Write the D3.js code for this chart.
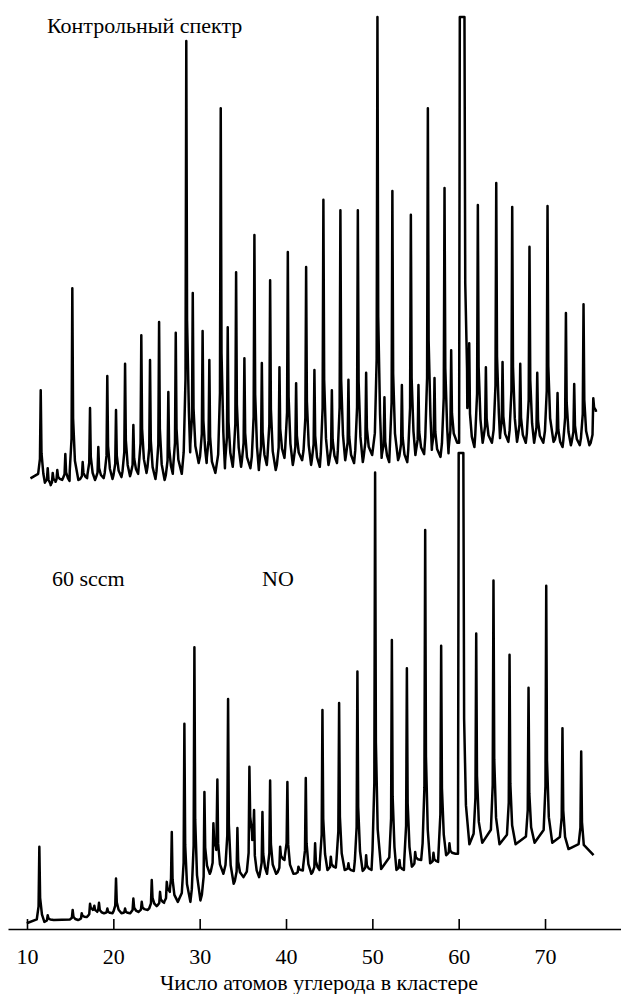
<!DOCTYPE html>
<html>
<head>
<meta charset="utf-8">
<script src="https://cdn.jsdelivr.net/npm/d3@7"></script>
<style>
  body { margin: 0; background: #fff; }
  svg { display: block; }
  text { font-family: "Liberation Serif", "DejaVu Serif", serif; }
</style>
</head>
<body>
<svg id="chart" width="621" height="994"></svg>
<script>
// cluster size (number of C atoms) of each peak, and its relative intensity (0-100, 100 = top of panel)
const topPeakN = [11.59, 12.40, 12.98, 13.51, 14.44, 15.25, 16.45, 17.30, 18.26, 19.30, 20.31, 21.36, 22.32, 23.24, 24.25, 25.30, 26.37, 27.23, 28.45, 29.20, 30.34, 31.12, 32.44, 33.25, 34.22, 35.18, 36.34, 37.20, 38.16, 39.24, 40.21, 41.17, 42.33, 43.29, 44.33, 45.31, 46.30, 47.23, 48.32, 49.28, 50.59, 51.40, 52.32, 53.42, 54.46, 55.34, 56.43, 57.20, 58.36, 59.13, 60.40, 61.22, 62.22, 63.15, 64.35, 65.08, 66.20, 67.13, 68.20, 69.10, 70.29, 71.45, 72.42, 73.38, 74.46, 75.59];
const topPeakI = [20.6, 4.0, 3.0, 3.6, 7.0, 42.3, 5.3, 16.8, 8.5, 23.6, 16.4, 26.2, 13.2, 32.3, 27.0, 35.1, 20.2, 32.8, 94.9, 41.3, 33.2, 27.0, 80.6, 34.0, 45.7, 27.4, 53.6, 26.4, 44.0, 25.5, 50.0, 22.1, 46.8, 24.9, 61.1, 20.6, 58.9, 22.8, 58.9, 24.3, 100, 19.1, 63.0, 21.7, 57.9, 21.7, 80.6, 23.2, 63.6, 29.1, 200, 30.6, 60.0, 25.5, 64.7, 26.6, 59.6, 26.2, 51.1, 24.3, 59.8, 20.0, 37.0, 21.9, 38.9, 18.9];
// background level right after each peak
const topValleyI = [0.9, 0.4, 1.1, 1.5, 1.3, 1.5, 1.9, 1.5, 1.9, 1.7, 2.1, 2.3, 2.8, 3.0, 1.7, 1.5, 2.8, 2.8, 7.4, 5.1, 5.1, 3.0, 4.0, 4.3, 4.3, 4.0, 3.6, 4.7, 3.6, 6.2, 4.7, 5.7, 4.7, 4.3, 4.7, 5.1, 5.7, 5.1, 5.3, 6.8, 6.2, 5.3, 5.7, 5.3, 6.8, 7.0, 7.9, 6.4, 7.2, 9.4, 16.8, 8.5, 9.4, 9.4, 10.4, 9.6, 9.6, 9.4, 9.4, 9.4, 9.6, 8.5, 8.9, 8.9, 8.9, 16.0];
const topStart = [10.4, 1.85];
const topEnd = [75.9, 16.0];

const botPeakN = [11.43, 12.40, 15.29, 16.34, 17.30, 17.80, 18.34, 19.31, 20.31, 21.36, 22.32, 23.29, 24.45, 25.41, 26.19, 26.77, 28.23, 29.39, 30.55, 31.59, 32.05, 33.29, 34.37, 35.76, 36.30, 37.27, 38.16, 39.32, 40.16, 41.44, 42.29, 43.37, 44.22, 45.19, 46.15, 47.23, 48.27, 49.28, 50.32, 52.26, 53.14, 54.00, 54.96, 56.12, 57.08, 57.97, 58.93, 60.27, 62.03, 64.03, 65.89, 68.09, 70.14, 72.02, 74.19];
const botPeakI = [17.3, 2.9, 4.0, 3.3, 5.3, 4.9, 5.5, 4.3, 10.6, 4.3, 6.4, 5.7, 10.3, 7.8, 9.9, 20.4, 43.1, 59.2, 28.8, 22.2, 31.4, 48.3, 21.2, 34.1, 25.0, 24.6, 31.2, 17.3, 30.9, 13.1, 31.7, 18.0, 46.0, 15.2, 47.5, 13.8, 54.1, 15.5, 95.9, 60.7, 14.5, 54.8, 16.2, 83.8, 16.0, 59.5, 18.0, 150, 62.1, 73.2, 57.6, 50.7, 72.1, 42.2, 37.3];
const botValleyI = [1.5, 1.9, 1.9, 2.5, 4.0, 3.6, 3.3, 3.3, 3.3, 3.3, 3.6, 4.0, 4.8, 5.5, 7.8, 5.7, 5.7, 6.0, 11.6, 16.6, 11.6, 9.5, 10.9, 18.7, 10.9, 11.6, 11.6, 14.5, 11.6, 12.3, 11.6, 12.4, 12.4, 12.9, 12.4, 12.2, 12.2, 12.4, 12.6, 12.4, 12.4, 13.1, 14.5, 13.8, 14.1, 15.5, 15.8, 17.8, 18.1, 17.8, 17.8, 18.1, 18.1, 16.8, 15.5];
const botStart = [9.97, 1.2];
const botEnd = [75.62, 15.5];

const tickValues = [10, 20, 30, 40, 50, 60, 70];
const xTitle = "Число атомов углерода в кластере";

const svg = d3.select("#chart");
const serif = "Liberation Serif, DejaVu Serif, serif";
const fontSize = 22;

const x = d3.scaleLinear().domain([7.8, 78.8]).range([8, 621]);
const yTop = d3.scaleLinear().domain([0, 100]).range([487, 17]);
const yBot = d3.scaleLinear().domain([0, 100]).range([929, 453]);

// peak list -> polyline: V-shaped valleys, steep rise with a small kink,
// shoulder and tail on the way down; peaks above cap get a flat top
function spectrumPoints(start, peakN, peakI, valleyI, end, cap) {
  const pts = [start];
  let prevV = start[1];
  let prevX = start[0];
  peakN.forEach((n, i) => {
    const p = peakI[i], v = valleyI[i];
    const next = i < peakN.length - 1 ? peakN[i + 1] : end[0];
    const h = Math.min(p, cap);
    const base = Math.max(prevX + 0.02, n - 0.3);
    let o = 0;
    if (p > cap) {
      o = 0.27;
      pts.push([base - 0.05, prevV], [n - 0.27, h], [n + o, h]);
    } else {
      pts.push([base, prevV + 0.05 * (h - prevV)], [n - 0.09, prevV + 0.22 * (h - prevV)], [n, h]);
    }
    pts.push([n + o + 0.09, v + 0.32 * (h - v)], [n + o + 0.3, v + 0.1 * (h - v)]);
    if (i < peakN.length - 1) {
      const vx = Math.max(n + o + 0.33, Math.min(n + o + 0.7, n + 0.6 * (next - n)));
      pts.push([vx, v]);
      prevX = vx;
    }
    prevV = v;
  });
  pts.push(end);
  return pts;
}

const lineTop = d3.line().x(d => x(d[0])).y(d => yTop(d[1]));
const lineBot = d3.line().x(d => x(d[0])).y(d => yBot(d[1]));

svg.append("path")
  .attr("d", lineTop(spectrumPoints(topStart, topPeakN, topPeakI, topValleyI, topEnd, 100)))
  .attr("fill", "none")
  .attr("stroke", "#000")
  .attr("stroke-width", 2.5)
  .attr("stroke-linejoin", "round");

svg.append("path")
  .attr("d", lineBot(spectrumPoints(botStart, botPeakN, botPeakI, botValleyI, botEnd, 100)))
  .attr("fill", "none")
  .attr("stroke", "#000")
  .attr("stroke-width", 2.5)
  .attr("stroke-linejoin", "round");

// x axis, ticks pointing up
const axisG = svg.append("g")
  .attr("transform", "translate(0,929)")
  .call(d3.axisBottom(x).tickValues(tickValues).tickSize(-10).tickSizeOuter(0).tickPadding(19));
axisG.attr("font-family", serif).attr("font-size", fontSize);
axisG.select(".domain").attr("stroke-width", 1.6);
axisG.selectAll(".tick line").attr("stroke-width", 1.6);
axisG.selectAll(".tick text").attr("fill", "#000");

svg.append("text")
  .attr("x", 319)
  .attr("y", 990)
  .attr("text-anchor", "middle")
  .attr("font-family", serif)
  .attr("font-size", fontSize)
  .text(xTitle);

svg.append("text")
  .attr("x", 47)
  .attr("y", 33)
  .attr("font-family", serif)
  .attr("font-size", fontSize)
  .text("Контрольный спектр");

svg.append("text")
  .attr("x", 52)
  .attr("y", 586)
  .attr("font-family", serif)
  .attr("font-size", fontSize)
  .text("60 sccm");

svg.append("text")
  .attr("x", 262)
  .attr("y", 586)
  .attr("font-family", serif)
  .attr("font-size", fontSize)
  .text("NO");
</script>
</body>
</html>
